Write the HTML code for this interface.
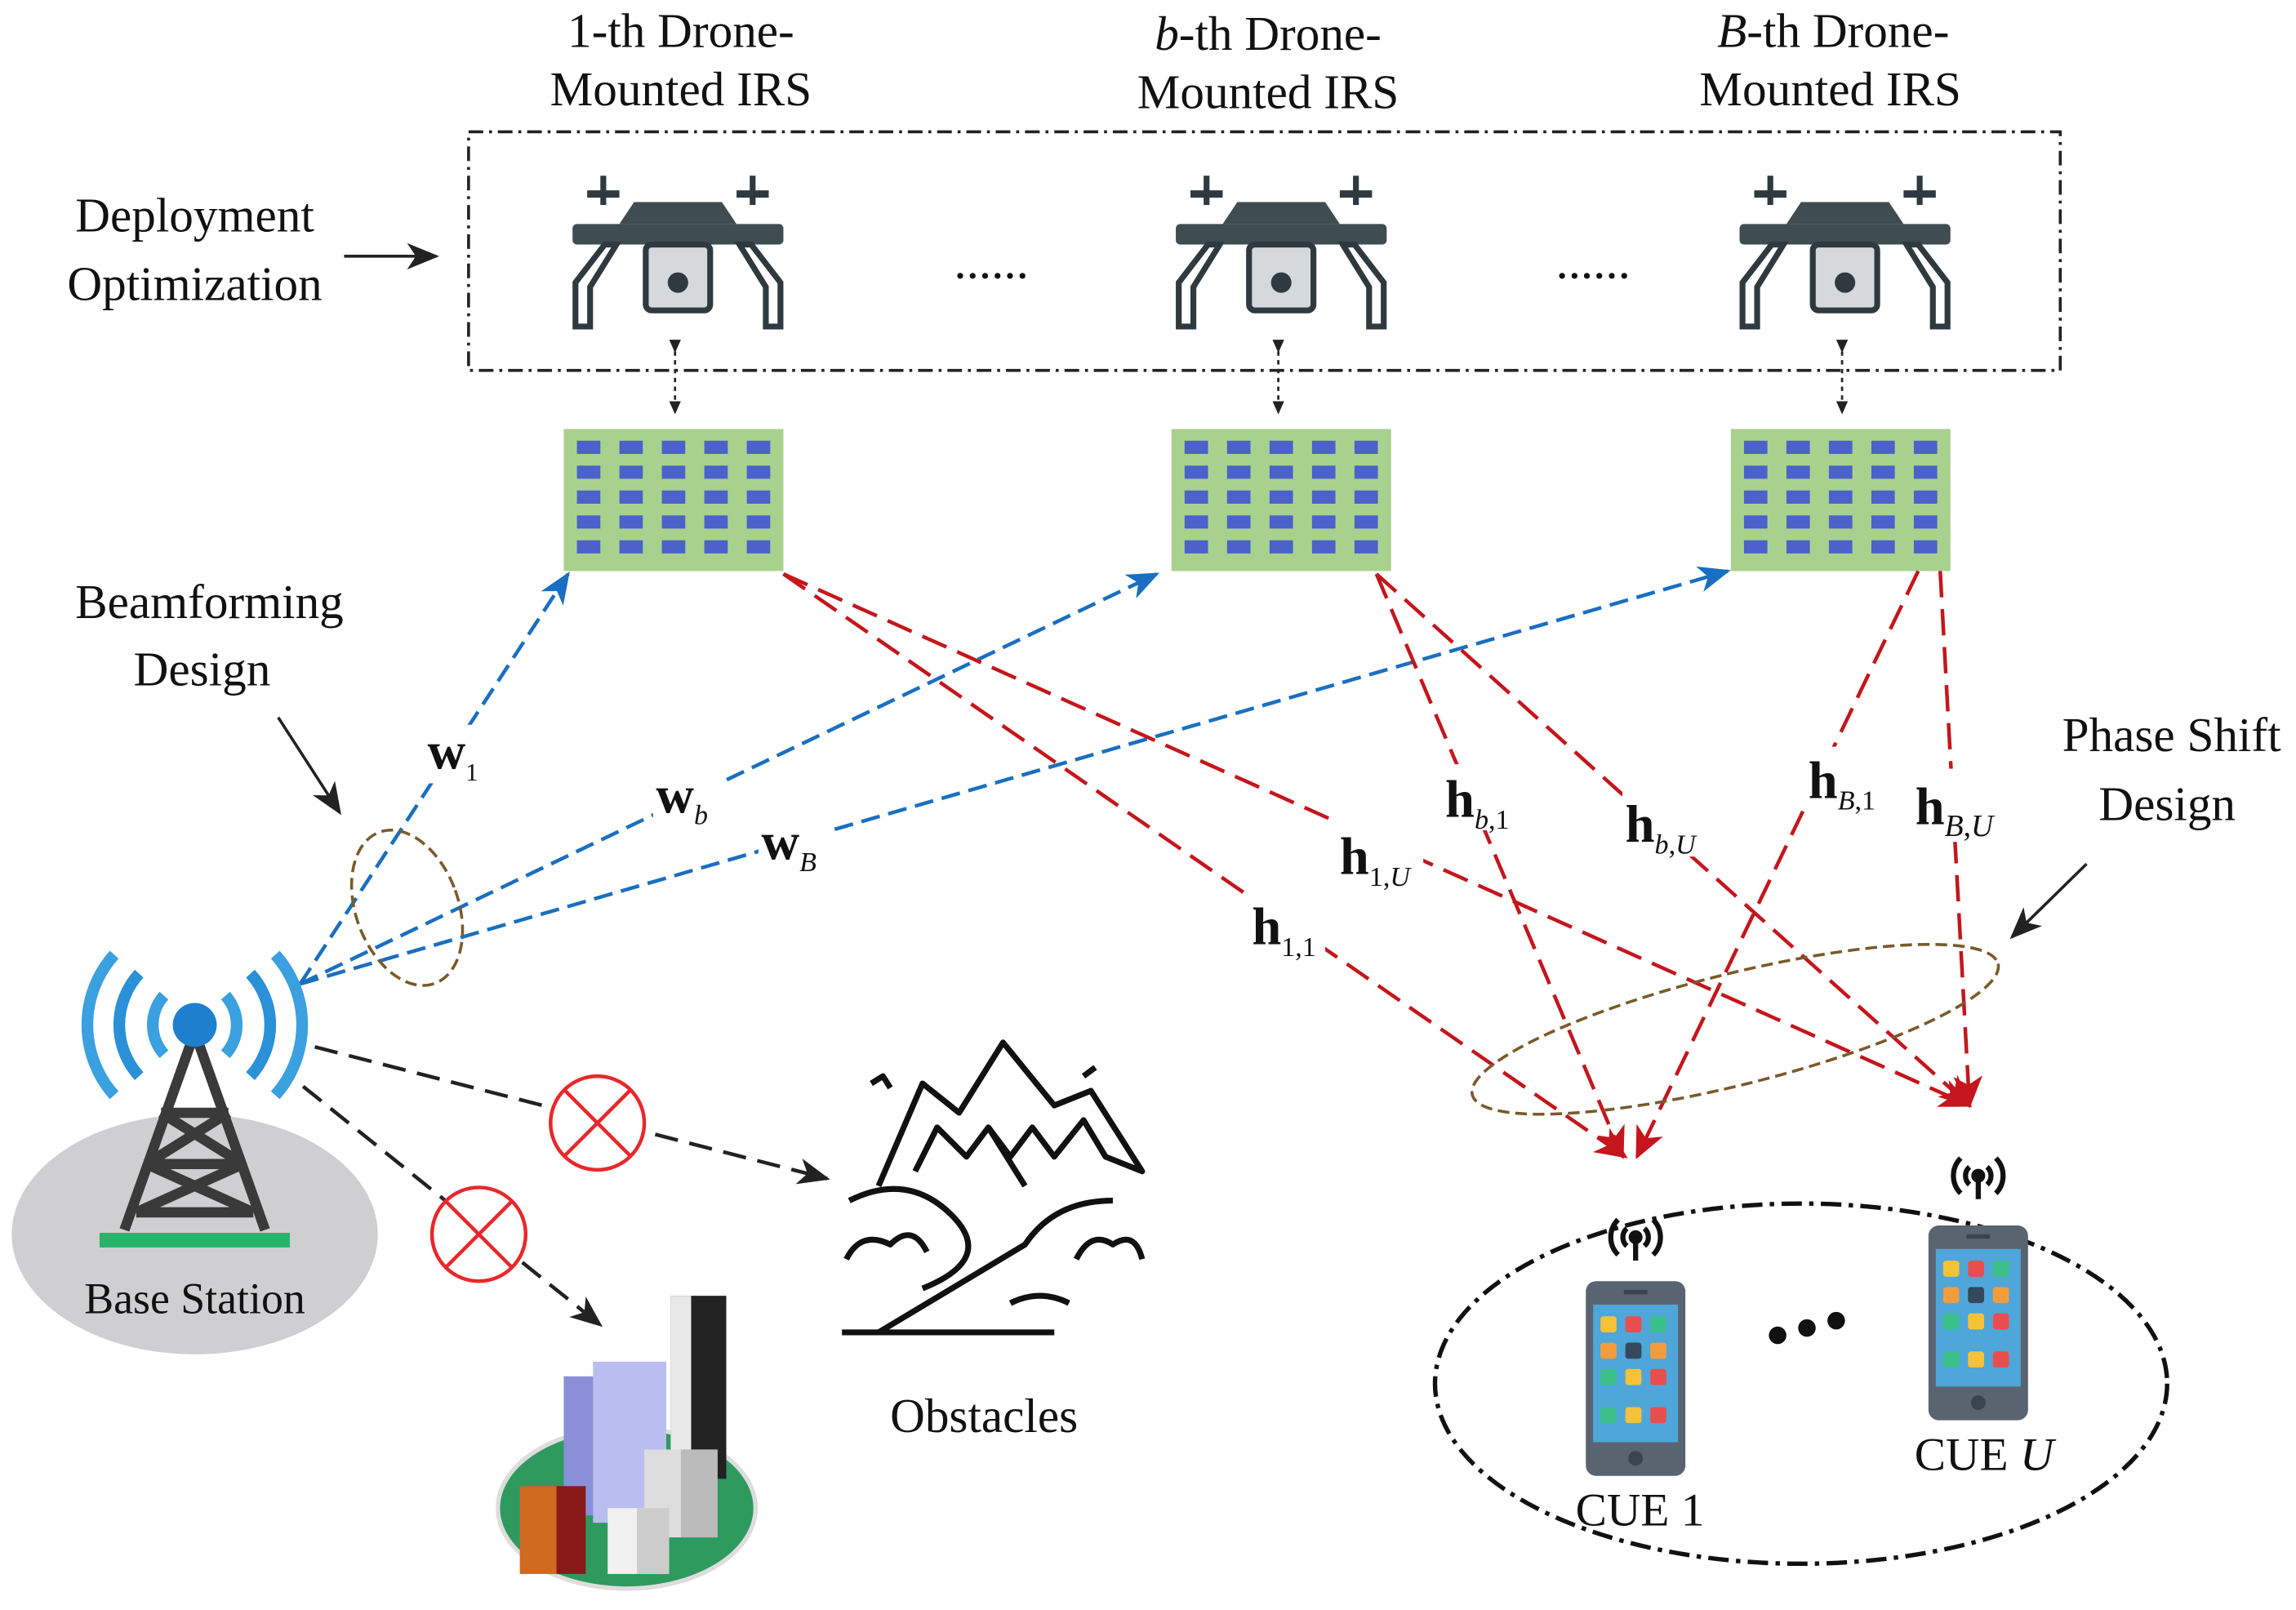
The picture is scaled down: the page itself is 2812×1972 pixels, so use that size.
<!DOCTYPE html>
<html><head><meta charset="utf-8"><style>
html,body{margin:0;padding:0;background:#fff}
svg{display:block}
text{font-family:"Liberation Serif",serif;fill:#111}
</style></head><body>
<svg width="2812" height="1972" viewBox="0 0 1568 1099.6" preserveAspectRatio="none" xmlns="http://www.w3.org/2000/svg">
<defs>
<marker id="ar" markerWidth="24" markerHeight="24" refX="20" refY="12" orient="auto" markerUnits="userSpaceOnUse"><path d="M0,2 L22,12 L0,22 L6,12z" fill="#c4161c"/></marker>
<marker id="abl" markerWidth="24" markerHeight="24" refX="20" refY="12" orient="auto" markerUnits="userSpaceOnUse"><path d="M0,3 L22,12 L0,21 L6,12z" fill="#222"/></marker>
<marker id="abu" markerWidth="24" markerHeight="24" refX="20" refY="12" orient="auto" markerUnits="userSpaceOnUse"><path d="M0,3 L22,12 L0,21 L6,12z" fill="#1a6fc0"/></marker>
<marker id="sm" markerWidth="10" markerHeight="10" refX="8" refY="5" orient="auto" markerUnits="userSpaceOnUse"><path d="M0,1 L9,5 L0,9z" fill="#222"/></marker>
<g id="drone">
<rect x="-62" y="-48" width="22" height="5" fill="#2e3a40"/><rect x="-53" y="-58" width="4" height="20" fill="#2e3a40"/>
<rect x="40" y="-48" width="22" height="5" fill="#2e3a40"/><rect x="49" y="-58" width="4" height="20" fill="#2e3a40"/>
<rect x="-72" y="-25" width="144" height="14" rx="3" fill="#3f4c52"/>
<path d="M-40,-25 L-30,-40 L30,-40 L40,-25z" fill="#3f4c52"/>
<path d="M-50,-11 L-70,15 L-70,45 L-60,45 L-60,18 L-42,-11z" fill="#fff" stroke="#2e3a40" stroke-width="4"/>
<path d="M50,-11 L70,15 L70,45 L60,45 L60,18 L42,-11z" fill="#fff" stroke="#2e3a40" stroke-width="4"/>
<rect x="-22" y="-11" width="44" height="45" rx="4" fill="#d5d9dc" stroke="#2e3a40" stroke-width="4"/>
<circle cx="0" cy="15" r="7" fill="#2e3a40"/>
</g>
<g id="row"><rect x="9" y="0" width="16" height="9"/><rect x="38" y="0" width="16" height="9"/><rect x="67" y="0" width="16" height="9"/><rect x="96" y="0" width="16" height="9"/><rect x="125" y="0" width="16" height="9"/></g>
<g id="phone">
<rect x="0" y="0" width="68" height="133" rx="7" fill="#5a6470"/>
<rect x="5" y="16" width="58" height="94" fill="#4fa6d8"/>
<g><rect x="10" y="24" width="11" height="11" rx="2" fill="#f6c23a"/><rect x="27" y="24" width="11" height="11" rx="2" fill="#e94e4e"/><rect x="44" y="24" width="11" height="11" rx="2" fill="#3bbf8a"/>
<rect x="10" y="42" width="11" height="11" rx="2" fill="#f39c3c"/><rect x="27" y="42" width="11" height="11" rx="2" fill="#34495e"/><rect x="44" y="42" width="11" height="11" rx="2" fill="#f39c3c"/>
<rect x="10" y="60" width="11" height="11" rx="2" fill="#3bbf8a"/><rect x="27" y="60" width="11" height="11" rx="2" fill="#f6c23a"/><rect x="44" y="60" width="11" height="11" rx="2" fill="#e94e4e"/>
<rect x="10" y="86" width="11" height="11" rx="2" fill="#3bbf8a"/><rect x="27" y="86" width="11" height="11" rx="2" fill="#f6c23a"/><rect x="44" y="86" width="11" height="11" rx="2" fill="#e94e4e"/></g>
<circle cx="34" cy="121" r="5" fill="#3a4450"/><rect x="26" y="6" width="16" height="3" fill="#3a4450"/>
</g>
<g id="sig" fill="none" stroke="#111" stroke-width="3.5">
<path d="M-6,-6 a8,8 0 0,0 0,12 M6,-6 a8,8 0 0,1 0,12"/><path d="M-12,-12 a17,17 0 0,0 0,24 M12,-12 a17,17 0 0,1 0,24"/>
<circle cx="0" cy="0" r="3" fill="#111"/><line x1="0" y1="0" x2="0" y2="16"/>
</g>
</defs>

<g font-size="33" text-anchor="middle">
<text x="465" y="32">1-th Drone-</text><text x="465" y="72">Mounted IRS</text>
<text x="866" y="34"><tspan font-style="italic">b</tspan>-th Drone-</text><text x="866" y="74">Mounted IRS</text>
<text x="1252" y="32"><tspan font-style="italic">B</tspan>-th Drone-</text><text x="1250" y="72">Mounted IRS</text>
<text x="133" y="158">Deployment</text><text x="133" y="205">Optimization</text>
<text x="143" y="422">Beamforming</text><text x="138" y="468">Design</text>
<text x="1483" y="513">Phase Shift</text><text x="1480" y="560">Design</text>
<text x="672" y="978">Obstacles</text>
</g>
<line x1="235" y1="175" x2="298" y2="175" stroke="#222" stroke-width="2" marker-end="url(#abl)"/>
<line x1="190" y1="490" x2="232" y2="555" stroke="#222" stroke-width="2" marker-end="url(#abl)"/>
<line x1="1425" y1="590" x2="1374" y2="640" stroke="#222" stroke-width="2" marker-end="url(#abl)"/>

<rect x="320" y="90" width="1087" height="163" fill="none" stroke="#222" stroke-width="2" stroke-dasharray="10,4,2,4"/>
<use href="#drone" x="463" y="178"/><use href="#drone" x="875" y="178"/><use href="#drone" x="1260" y="178"/>
<text x="677" y="190" font-size="34" text-anchor="middle">......</text>
<text x="1088" y="190" font-size="34" text-anchor="middle">......</text>

<g stroke="#222" stroke-width="1.5" stroke-dasharray="3,3">
<line x1="461" y1="240" x2="461" y2="282" marker-end="url(#sm)" marker-start="url(#sm)"/>
<line x1="873" y1="240" x2="873" y2="282" marker-end="url(#sm)" marker-start="url(#sm)"/>
<line x1="1258" y1="240" x2="1258" y2="282" marker-end="url(#sm)" marker-start="url(#sm)"/>
</g>

<rect x="385" y="293" width="150" height="97" fill="#a9d18e"/>
<rect x="800" y="293" width="150" height="97" fill="#a9d18e"/>
<rect x="1182" y="293" width="150" height="97" fill="#a9d18e"/>
<g fill="#4a62c9">
<g transform="translate(385,301)"><use href="#row" y="0"/><use href="#row" y="17"/><use href="#row" y="34"/><use href="#row" y="51"/><use href="#row" y="68"/></g>
<g transform="translate(800,301)"><use href="#row" y="0"/><use href="#row" y="17"/><use href="#row" y="34"/><use href="#row" y="51"/><use href="#row" y="68"/></g>
<g transform="translate(1182,301)"><use href="#row" y="0"/><use href="#row" y="17"/><use href="#row" y="34"/><use href="#row" y="51"/><use href="#row" y="68"/></g>
</g>

<g stroke="#1a6fc0" stroke-width="2.5" stroke-dasharray="13,6" fill="none">
<line x1="205" y1="672" x2="388" y2="392" marker-end="url(#abu)"/>
<line x1="205" y1="672" x2="790" y2="392" marker-end="url(#abu)"/>
<line x1="205" y1="672" x2="1180" y2="390" marker-end="url(#abu)"/>
</g>
<g font-weight="bold" font-size="36">
<rect x="290" y="495" width="45" height="40" fill="#fff"/>
<text x="292" y="525">w<tspan font-size="17" font-weight="normal" dy="8">1</tspan></text>
<rect x="446" y="525" width="48" height="40" fill="#fff"/>
<text x="448" y="555">w<tspan font-size="19" font-weight="normal" font-style="italic" dy="8">b</tspan></text>
<rect x="518" y="557" width="50" height="40" fill="#fff"/>
<text x="520" y="587">w<tspan font-size="19" font-weight="normal" font-style="italic" dy="8">B</tspan></text>
</g>
<ellipse cx="278" cy="620" rx="35" ry="55" transform="rotate(-20 278 620)" fill="none" stroke="#7a5a2a" stroke-width="2" stroke-dasharray="8,4"/>

<g stroke="#c4161c" stroke-width="2.5" stroke-dasharray="18,8" fill="none">
<line x1="535" y1="392" x2="1110" y2="790" marker-end="url(#ar)"/>
<line x1="535" y1="392" x2="1345" y2="755" marker-end="url(#ar)"/>
<line x1="940" y1="392" x2="1108" y2="790" marker-end="url(#ar)"/>
<line x1="940" y1="392" x2="1345" y2="755" marker-end="url(#ar)"/>
<line x1="1310" y1="390" x2="1118" y2="790" marker-end="url(#ar)"/>
<line x1="1325" y1="390" x2="1345" y2="755" marker-end="url(#ar)"/>
</g>
<g font-weight="bold" font-size="36">
<rect x="850" y="612" width="55" height="45" fill="#fff"/>
<text x="855" y="645">h<tspan font-size="19" font-weight="normal" dy="8">1,1</tspan></text>
<rect x="912" y="560" width="60" height="45" fill="#fff"/>
<text x="915" y="597">h<tspan font-size="19" font-weight="normal" dy="8">1,<tspan font-style="italic">U</tspan></tspan></text>
<rect x="985" y="522" width="55" height="45" fill="#fff"/>
<text x="987" y="558">h<tspan font-size="19" font-weight="normal" dy="8"><tspan font-style="italic">b</tspan>,1</tspan></text>
<rect x="1108" y="540" width="60" height="45" fill="#fff"/>
<text x="1110" y="575">h<tspan font-size="19" font-weight="normal" dy="8"><tspan font-style="italic">b</tspan>,<tspan font-style="italic">U</tspan></tspan></text>
<rect x="1233" y="510" width="55" height="45" fill="#fff"/>
<text x="1235" y="545">h<tspan font-size="19" font-weight="normal" dy="8"><tspan font-style="italic">B</tspan>,1</tspan></text>
<rect x="1306" y="525" width="72" height="50" fill="#fff"/>
<text x="1308" y="563">h<tspan font-size="21" font-weight="normal" dy="8"><tspan font-style="italic">B</tspan>,<tspan font-style="italic">U</tspan></tspan></text>
</g>
<ellipse cx="1185" cy="703" rx="185" ry="38" transform="rotate(-14 1185 703)" fill="none" stroke="#7a5a2a" stroke-width="2" stroke-dasharray="8,4"/>

<ellipse cx="133" cy="843" rx="125" ry="82" fill="#cfcfd1"/>
<rect x="68" y="842" width="130" height="10" fill="#2ab36a"/>
<g stroke="#3a3a3a" stroke-width="7" fill="none">
<path d="M133,705 L85,840 M133,705 L181,840 M110,760 L156,760 M100,795 L166,795 M110,760 L166,795 M156,760 L100,795 M93,828 L173,828 M100,795 L173,828 M166,795 L93,828"/>
</g>
<circle cx="133" cy="700" r="15" fill="#1e7fcf"/>
<g fill="none" stroke-width="8">
<path d="M112,680 a30,30 0 0,0 0,40 M154,680 a30,30 0 0,1 0,40" stroke="#3aa0e0"/>
<path d="M95,665 a52,52 0 0,0 0,70 M171,665 a52,52 0 0,1 0,70" stroke="#2a90d8"/>
<path d="M78,652 a72,72 0 0,0 0,96 M188,652 a72,72 0 0,1 0,96" stroke="#3aa0e0"/>
</g>
<text x="133" y="897" font-size="30" text-anchor="middle" font-family="Liberation Sans,sans-serif">Base Station</text>

<g stroke="#222" stroke-width="2.5" stroke-dasharray="16,8" fill="none">
<line x1="215" y1="715" x2="565" y2="805" marker-end="url(#abl)"/>
<line x1="207" y1="742" x2="410" y2="905" marker-end="url(#abl)"/>
</g>
<g stroke="#e8282b" stroke-width="2.5" fill="#fff">
<circle cx="408" cy="767" r="32"/><circle cx="327" cy="843" r="32"/>
<path d="M386,745 L430,789 M430,745 L386,789 M305,821 L349,865 M349,821 L305,865" fill="none"/>
</g>

<g fill="none" stroke="#111" stroke-width="4" stroke-linejoin="round">
<path d="M600,810 L630,740 L655,760 L685,712 L720,755 L745,745 L780,800 L755,790 L740,765 L720,790 L705,770 L690,790 L675,770 L660,790 L640,770 L625,800"/>
<path d="M675,770 L700,810 M580,820 Q620,800 650,830 Q680,860 630,880 M600,910 Q650,880 700,850 Q720,820 760,820"/>
<path d="M578,860 q10,-20 30,-10 q15,-15 25,5 M735,860 q10,-20 25,-10 q15,-10 20,10 M575,910 L720,910 M690,890 q20,-10 40,0"/>
<path d="M595,740 l8,-5 l5,8 M740,735 l8,-6"/>
</g>

<ellipse cx="428" cy="1030" rx="88" ry="55" fill="#2e9a5e" stroke="#ddd" stroke-width="3"/>
<rect x="385" y="940" width="45" height="95" fill="#8a8fd8"/>
<rect x="405" y="930" width="50" height="110" fill="#b9bdf0"/>
<rect x="458" y="885" width="38" height="125" fill="#222"/>
<rect x="458" y="885" width="14" height="125" fill="#e8e8e8"/>
<rect x="440" y="990" width="50" height="60" fill="#ddd"/><rect x="465" y="990" width="25" height="60" fill="#bbb"/>
<rect x="355" y="1015" width="25" height="60" fill="#d06a20"/><rect x="380" y="1015" width="20" height="60" fill="#8a1a1a"/>
<rect x="415" y="1030" width="40" height="45" fill="#f0f0f0"/><rect x="435" y="1030" width="22" height="45" fill="#ccc"/>

<ellipse cx="1230" cy="945" rx="250" ry="123" fill="none" stroke="#111" stroke-width="3" stroke-dasharray="14,5,3,5"/>
<use href="#phone" x="1083" y="875"/><use href="#phone" x="1317" y="837"/>
<use href="#sig" x="1117" y="845"/><use href="#sig" x="1351" y="803"/>
<circle cx="1214" cy="912" r="6" fill="#111"/><circle cx="1234" cy="907" r="6" fill="#111"/><circle cx="1254" cy="902" r="6" fill="#111"/>
<text x="1120" y="1042" font-size="32" text-anchor="middle">CUE 1</text>
<text x="1355" y="1004" font-size="32" text-anchor="middle">CUE <tspan font-style="italic">U</tspan></text>
</svg>
</body></html>
